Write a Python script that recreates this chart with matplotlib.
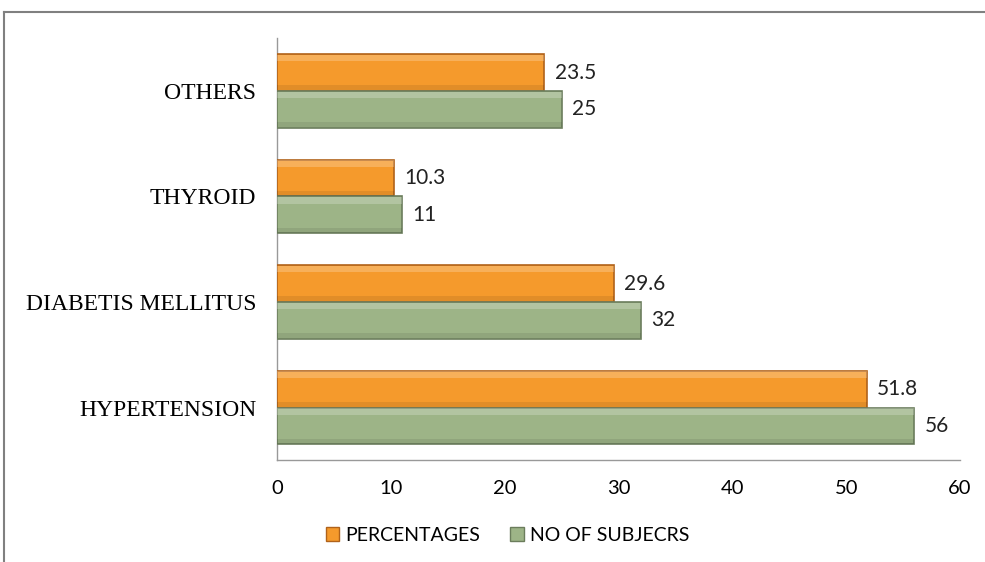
import matplotlib.pyplot as plt
import numpy as np
from matplotlib.lines import Line2D
from matplotlib.patches import Rectangle

categories = ["HYPERTENSION", "DIABETIS MELLITUS", "THYROID", "OTHERS"]
percentages = [51.8, 29.6, 10.3, 23.5]
subjects = [56, 32, 11, 25]
pct_labels = ["51.8", "29.6", "10.3", "23.5"]
subj_labels = ["56", "32", "11", "25"]
x_ticks = [0, 10, 20, 30, 40, 50, 60]

ORANGE = "#F59A2C"
ORANGE_EDGE = "#B0621A"
GREEN = "#9DB487"
GREEN_EDGE = "#6B7D5C"

fig = plt.figure(figsize=(9.85, 5.62), dpi=100)
ax = fig.add_axes([0.2812, 0.181, 0.6934, 0.751])

y = np.arange(len(categories))
h = 0.35


def bevel_bars(ys, vals, color, edge):
    bars = ax.barh(ys, vals, height=h, color=color, edgecolor=edge,
                   linewidth=1.2, zorder=3)
    # light strip along the top and darker strip along the bottom of each bar
    for b in bars:
        x0, y0 = b.get_x(), b.get_y()
        w, hh = b.get_width(), b.get_height()
        ax.add_patch(Rectangle((x0, y0 + hh * 0.80), w, hh * 0.18,
                               color="white", alpha=0.22, lw=0, zorder=4))
        ax.add_patch(Rectangle((x0, y0 + hh * 0.02), w, hh * 0.14,
                               color="black", alpha=0.08, lw=0, zorder=4))
    return bars


bevel_bars(y + h / 2, percentages, ORANGE, ORANGE_EDGE)
bevel_bars(y - h / 2, subjects, GREEN, GREEN_EDGE)

for yi, v, s in zip(y, percentages, pct_labels):
    ax.text(v + 0.9, yi + h / 2, s, va="center", ha="left",
            fontsize=15, family="Lato", color="#222222")
for yi, v, s in zip(y, subjects, subj_labels):
    ax.text(v + 0.9, yi - h / 2, s, va="center", ha="left",
            fontsize=15, family="Lato", color="#222222")

ax.set_xlim(0, 60)
ax.set_ylim(-0.5, len(categories) - 0.5)
ax.set_xticks(x_ticks)
ax.set_xticklabels([str(t) for t in x_ticks], family="Lato", fontsize=14.5)
ax.set_yticks(y)
ax.set_yticklabels(categories, family="Liberation Serif", fontsize=17)
ax.tick_params(axis="x", length=0, pad=14)
ax.tick_params(axis="y", length=0, pad=15)
for side in ["top", "right"]:
    ax.spines[side].set_visible(False)
for side in ["left", "bottom"]:
    ax.spines[side].set_color("#999999")
    ax.spines[side].set_linewidth(1)

handles = [
    Rectangle((0, 0), 1, 1, facecolor=ORANGE, edgecolor=ORANGE_EDGE),
    Rectangle((0, 0), 1, 1, facecolor=GREEN, edgecolor=GREEN_EDGE),
]
fig.legend(handles, ["PERCENTAGES", "NO OF SUBJECRS"], loc="center",
           bbox_to_anchor=(0.515, 0.047), ncol=2, frameon=False,
           prop={"family": "Lato", "size": 14}, handlelength=0.7,
           handleheight=0.7, handletextpad=0.3, columnspacing=1.55)

# outer frame: top and left edges only
fig.add_artist(Line2D([0.004, 1.0], [0.979, 0.979], color="#808080", lw=1.5))
fig.add_artist(Line2D([0.004, 0.004], [0.0, 0.979], color="#808080", lw=1.5))

fig.savefig("out.png", dpi=100)
